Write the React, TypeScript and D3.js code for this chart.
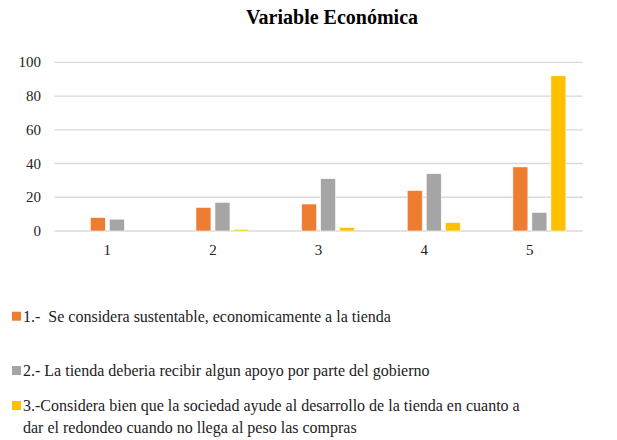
import React from 'react';
import * as d3 from 'd3';

const categories = ['1', '2', '3', '4', '5'];
// Excel chart has an empty first series, so each group keeps a blank slot on the left
const slots = ['blank', 's1', 's2', 's3'];
const seriesKeys = ['s1', 's2', 's3'];
const legendLines = [
  ['1.-  Se considera sustentable, economicamente a la tienda'],
  ['2.- La tienda deberia recibir algun apoyo por parte del gobierno'],
  [
    '3.-Considera bien que la sociedad ayude al desarrollo de la tienda en cuanto a',
    'dar el redondeo cuando no llega al peso las compras',
  ],
];
const seriesColors = ['#ED7D31', '#A5A5A5', '#FFC000'];
const s1Values = [8, 14, 16, 24, 38];
const s2Values = [7, 17, 31, 34, 11];
const s3Values = [0, 1, 2, 5, 92];
const yTicks = [0, 20, 40, 60, 80, 100];

const allValues = [s1Values, s2Values, s3Values];

const App = () => {
  const width = 617;
  const height = 440;
  const left = 54.5;
  const right = 582.7;
  const top = 62.3;
  const bottom = 231;
  const ff = 'Liberation Serif';

  const x0 = d3.scaleBand<string>().domain(categories).range([left, right])
    .paddingInner(0.318).paddingOuter(0.159);
  const x1 = d3.scaleBand<string>().domain(slots).range([0, x0.bandwidth()])
    .paddingInner(0.21).paddingOuter(0);
  const y = d3.scaleLinear().domain([0, 100]).range([bottom, top]);

  const legendY = [321.7, 376, 411];

  return (
    <svg width={width} height={height} fontFamily={ff} style={{ position: 'absolute', left: 0, top: 0, fontFamily: ff }}>
      <rect width={width} height={height} fill="#fff" />
      <text x={332} y={24} textAnchor="middle" fontFamily={ff} fontWeight="bold" fontSize={20} fill="#000">
        Variable Económica
      </text>
      {yTicks.map((t) => (
        <g key={t}>
          <line x1={left} x2={right} y1={y(t)} y2={y(t)} stroke="#D9D9D9" strokeWidth={1.3} />
          <text x={41} y={y(t) + 5} textAnchor="end" fontFamily={ff} fontSize={15} fill="#222">
            {t}
          </text>
        </g>
      ))}
      {categories.map((c, i) => (
        <g key={c} transform={`translate(${x0(c)},0)`}>
          {seriesKeys.map((k, j) => {
            const v = allValues[j][i];
            if (v <= 0) return null;
            return (
              <rect key={k} x={x1(k)} y={y(v)} width={x1.bandwidth()} height={y(0) - y(v)}
                fill={seriesColors[j]} stroke="#fff" strokeWidth={0.6} />
            );
          })}
          <text x={x0.bandwidth() / 2} y={255} textAnchor="middle" fontFamily={ff} fontSize={15} fill="#222">
            {c}
          </text>
        </g>
      ))}
      {legendLines.map((lines, i) => (
        <g key={i}>
          <rect x={12} y={legendY[i] - 10} width={9} height={9} fill={seriesColors[i]} />
          {lines.map((ln, k) => (
            <text key={k} x={23} y={legendY[i] + k * 22} fontFamily={ff} fontSize={16} fill="#222" xmlSpace="preserve">
              {ln}
            </text>
          ))}
        </g>
      ))}
    </svg>
  );
};

export default App;
